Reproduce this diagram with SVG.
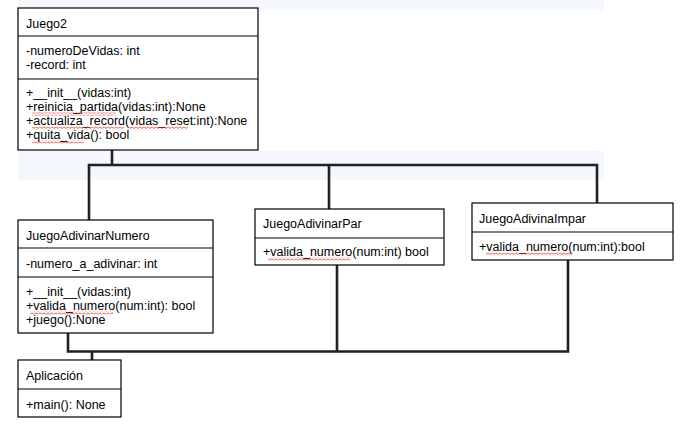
<svg xmlns="http://www.w3.org/2000/svg" width="684" height="426" viewBox="0 0 684 426">
<defs>
<style>
.bg{fill:#f4f8fd}
.box{fill:#fff;stroke:#000;stroke-width:1.2}
.div{stroke:#000;stroke-width:1.2}
.t{font-family:"Liberation Sans",Arial,sans-serif;font-size:12.5px;fill:#000}
.con{fill:none;stroke:#222;stroke-width:2.6;stroke-linejoin:miter}
.sq{fill:url(#wavy)}
</style>
<pattern id="wavy" patternUnits="userSpaceOnUse" width="4" height="3">
<path d="M0 0.8 L2 2.4 L4 0.8" fill="none" stroke="#e0302a" stroke-width="0.8"/>
</pattern>
</defs>
<rect width="684" height="426" fill="#fff"/>
<rect class="bg" x="18" y="0" width="586" height="10"/>
<rect class="bg" x="18" y="151" width="586" height="29"/>

<g id="connectors">
<path class="con" d="M112 150 V165 M89 220 V165 H597 V203 M329 165 V209"/>
<path class="con" d="M68 333 V351.5 H568 V259 M337 265 V351.5 M92 351.5 V360"/>
</g>

<g id="Juego2">
<rect class="box" x="18" y="8" width="240" height="142"/>
<line class="div" x1="18" y1="36" x2="258" y2="36"/>
<line class="div" x1="18" y1="79" x2="258" y2="79"/>
<text class="t" x="26" y="28">Juego2</text>
<text class="t" x="26" y="55">-numeroDeVidas: int</text>
<text class="t" x="26" y="69">-record: int</text>
<text class="t" x="26" y="97">+__init__(vidas:int)</text>
<text class="t" x="26" y="111">+reinicia_partida(vidas:int):None</text>
<text class="t" x="26" y="125">+actualiza_record(vidas_reset:int):None</text>
<text class="t" x="26" y="139">+quita_vida(): bool</text>
<rect class="sq" x="32" y="112.5" width="84" height="3"/>
<rect class="sq" x="32" y="126.5" width="92" height="3"/>
<rect class="sq" x="128" y="126.5" width="60" height="3"/>
<rect class="sq" x="32" y="140.5" width="52" height="3"/>
</g>

<g id="JuegoAdivinarNumero">
<rect class="box" x="18" y="220" width="195" height="113"/>
<line class="div" x1="18" y1="248" x2="213" y2="248"/>
<line class="div" x1="18" y1="277" x2="213" y2="277"/>
<text class="t" x="26" y="240">JuegoAdivinarNumero</text>
<text class="t" x="26" y="268">-numero_a_adivinar: int</text>
<text class="t" x="26" y="296">+__init__(vidas:int)</text>
<text class="t" x="26" y="310">+valida_numero(num:int): bool</text>
<text class="t" x="26" y="324">+juego():None</text>
<rect class="sq" x="30" y="311.5" width="83" height="3"/>
</g>

<g id="JuegoAdivinarPar">
<rect class="box" x="255" y="209" width="189" height="56"/>
<line class="div" x1="255" y1="238" x2="444" y2="238"/>
<text class="t" x="263" y="228">JuegoAdivinarPar</text>
<text class="t" x="263" y="256">+valida_numero(num:int) bool</text>
<rect class="sq" x="268" y="257.5" width="82" height="3"/>
</g>

<g id="JuegoAdivinaImpar">
<rect class="box" x="472" y="203" width="201" height="57"/>
<line class="div" x1="472" y1="232" x2="673" y2="232"/>
<text class="t" x="479" y="223">JuegoAdivinaImpar</text>
<text class="t" x="479" y="251">+valida_numero(num:int):bool</text>
<rect class="sq" x="486" y="252.5" width="86" height="3"/>
</g>

<g id="Aplicacion">
<rect class="box" x="18" y="360" width="103" height="57"/>
<line class="div" x1="18" y1="389" x2="121" y2="389"/>
<text class="t" x="26" y="380">Aplicación</text>
<text class="t" x="26" y="409">+main(): None</text>
</g>
</svg>
